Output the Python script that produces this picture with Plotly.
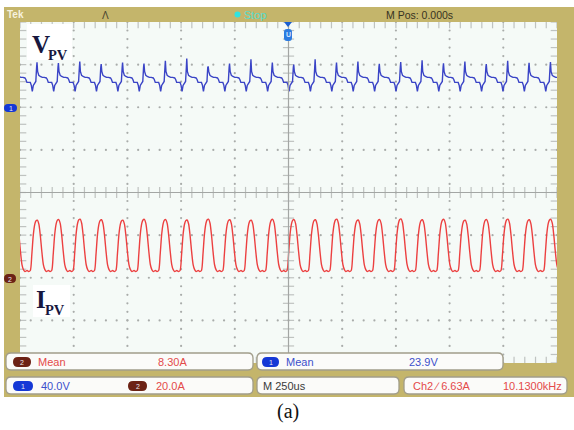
import numpy as np
import plotly.graph_objects as go

# ---------------- scope settings ----------------
CH1_VOLTS_PER_DIV = 40.0
CH2_AMPS_PER_DIV = 20.0
CH1_GROUND_DIV = 2.0      # blue "1" marker, 2 div above centre
CH2_GROUND_DIV = -2.0     # red "2" marker, 2 div below centre
TIME_PER_DIV_US = 250.0
N_HDIV, N_VDIV = 10, 8

PERIOD_US = 99.6          # one switching period as measured on screen
FIRST_EDGE_US = -1202.0   # first rising edge of the current pulse

# one period of I_PV (A) versus phase of the period
CUR_PHASE = [0.00, 0.07, 0.14, 0.21, 0.26, 0.33, 0.40, 0.47, 0.54, 0.61, 0.68, 0.75, 0.85, 0.92]
CUR_SHAPE = [3.4, 10.9, 20.3, 25.4, 26.9, 27.3, 25.4, 19.8, 12.3, 6.2, 3.8, 2.9, 3.4, 2.9]
# peak current of every pulse on screen (A)
CUR_PEAKS = [27.3, 27.0, 27.3, 27.5, 27.2, 27.0, 27.4, 27.3, 27.1, 27.5, 27.2, 27.0, 27.4,
             27.3, 27.2, 27.5, 27.1, 27.3, 27.6, 27.2, 27.4, 27.0, 27.3, 27.5, 27.2, 27.4]

# one period of V_PV (V) versus phase of the same period
VOLT_PHASE = [0.000, 0.047, 0.093, 0.140, 0.187, 0.257, 0.294, 0.313, 0.341, 0.397,
              0.467, 0.561, 0.654, 0.748, 0.794, 0.841, 0.911]
VOLT_SHAPE = [23.3, 20.5, 14.8, 20.5, 22.3, 24.2, 37.4, 42.1, 33.6, 29.9,
              28.9, 28.0, 28.0, 27.5, 26.1, 23.3, 23.3]
VOLT_SPIKE_IDX = 7
# spike top of every period on screen (V)
VOLT_SPIKES = [41.0, 42.1, 41.5, 43.0, 40.5, 42.0, 41.0, 43.5, 45.8, 38.3, 41.1, 44.9, 42.0,
               40.0, 45.0, 42.0, 43.0, 40.8, 42.5, 44.0, 41.2, 42.8, 40.5, 43.6, 41.8, 42.4]

# readouts
READ_CH2_MEAN = "8.30A"
READ_CH1_MEAN = "23.9V"
READ_CH1_SCALE = "40.0V"
READ_CH2_SCALE = "20.0A"
READ_TIMEBASE = "M 250us"
READ_TRIGGER = "Ch2 \u2215 6.63A"
READ_FREQ = "10.1300kHz"
TOP_STATUS = "Stop"
TOP_MPOS = "M Pos: 0.000s"
CAPTION = "(a)"

# ---------------- build waveforms ----------------
t_cur, i_cur = [], []
lo, top = CUR_SHAPE[0], max(CUR_SHAPE)
for k, pk in enumerate(CUR_PEAKS):
    t0 = FIRST_EDGE_US + (k - 1) * PERIOD_US
    for ph, v in zip(CUR_PHASE, CUR_SHAPE):
        t_cur.append(t0 + ph * PERIOD_US)
        i_cur.append(lo + (v - lo) * (pk - lo) / (top - lo))

t_v, v_v = [], []
for k, sp in enumerate(VOLT_SPIKES):
    t0 = FIRST_EDGE_US + (k - 1) * PERIOD_US
    for j, (ph, v) in enumerate(zip(VOLT_PHASE, VOLT_SHAPE)):
        t_v.append(t0 + ph * PERIOD_US)
        v_v.append(sp if j == VOLT_SPIKE_IDX else v)

half_t = N_HDIV / 2 * TIME_PER_DIV_US
half_d = N_VDIV / 2

# ---------------- pixel helpers ----------------
W, H = 574, 430
L, R, T, B = 20, 557, 22, 363


def px(x):
    return (x - L) / (R - L)


def py(y):
    return (B - y) / (B - T)


def rrect(x0, y0, x1, y1, r, fill, line="rgba(0,0,0,0)", lw=0, layer="above"):
    rx, ry = r / (R - L), r / (B - T)
    X0, X1 = px(x0), px(x1)
    Y0, Y1 = py(y1), py(y0)  # Y0 bottom, Y1 top (paper)
    path = (f"M {X0+rx},{Y0} L {X1-rx},{Y0} Q {X1},{Y0} {X1},{Y0+ry} "
            f"L {X1},{Y1-ry} Q {X1},{Y1} {X1-rx},{Y1} L {X0+rx},{Y1} "
            f"Q {X0},{Y1} {X0},{Y1-ry} L {X0},{Y0+ry} Q {X0},{Y0} {X0+rx},{Y0} Z")
    return dict(type="path", xref="paper", yref="paper", path=path, fillcolor=fill,
                line=dict(color=line, width=lw), layer=layer)


def rect(x0, y0, x1, y1, fill, layer="below"):
    return dict(type="rect", xref="paper", yref="paper", x0=px(x0), x1=px(x1),
                y0=py(y1), y1=py(y0), fillcolor=fill, line=dict(width=0), layer=layer)


def text(x, y, s, color, size=11, family="Liberation Sans", anchor="left", bold=False):
    if bold:
        s = f"<b>{s}</b>"
    return dict(x=px(x), y=py(y), xref="paper", yref="paper", text=s, showarrow=False,
                xanchor=anchor, yanchor="middle", font=dict(color=color, size=size, family=family),
                borderpad=0)


fig = go.Figure()

# ---------------- graticule ----------------
GRID = "#a9acaa"
gx, gy = [], []
for xv in np.arange(-half_t + TIME_PER_DIV_US, half_t, TIME_PER_DIV_US):
    if abs(xv) < 1e-6:
        continue
    for yv in np.arange(-half_d, half_d + 1e-6, 0.2):
        gx.append(xv); gy.append(yv)
for yv in range(-int(half_d) + 1, int(half_d)):
    if yv == 0:
        continue
    for xv in np.arange(-half_t, half_t + 1e-6, TIME_PER_DIV_US / 5):
        gx.append(xv); gy.append(yv)
fig.add_trace(go.Scatter(x=gx, y=gy, mode="markers", hoverinfo="skip",
                         marker=dict(symbol="circle", size=2.2, color=GRID, line=dict(width=0))))

# ticks on horizontal lines (edges + centre)
tx, ty, tsz = [], [], []
for yv, s in [(-half_d, 9), (half_d, 9), (0, 8)]:
    for xv in np.arange(-half_t, half_t + 1e-6, TIME_PER_DIV_US / 5):
        tx.append(xv); ty.append(yv); tsz.append(s)
fig.add_trace(go.Scatter(x=tx, y=ty, mode="markers", hoverinfo="skip",
                         marker=dict(symbol="line-ns", size=tsz, line=dict(color=GRID, width=1.2))))
tx, ty, tsz = [], [], []
for xv, s in [(-half_t, 9), (half_t, 9), (0, 8)]:
    for yv in np.arange(-half_d, half_d + 1e-6, 0.2):
        tx.append(xv); ty.append(yv); tsz.append(s)
fig.add_trace(go.Scatter(x=tx, y=ty, mode="markers", hoverinfo="skip",
                         marker=dict(symbol="line-ew", size=tsz, line=dict(color=GRID, width=1.2))))

# ---------------- waveforms ----------------
fig.add_trace(go.Scatter(x=t_cur, y=i_cur, yaxis="y3", mode="lines", hoverinfo="skip",
                         line=dict(color="#ec4040", width=1.4, shape="spline", smoothing=0.7)))
fig.add_trace(go.Scatter(x=t_v, y=v_v, yaxis="y2", mode="lines", hoverinfo="skip",
                         line=dict(color="#3a44c6", width=1.4)))

shapes = []
KHAKI = "#c4b56b"
shapes += [rect(4, 7, 574, T, KHAKI), rect(4, B, 574, 397, KHAKI),
           rect(4, T, L, B, KHAKI), rect(R, T, 574, B, KHAKI)]
# centre cross
shapes.append(dict(type="line", xref="x", yref="y", x0=-half_t, x1=half_t, y0=0, y1=0,
                   line=dict(color="#a3a6a4", width=1.2), layer="above"))
shapes.append(dict(type="line", xref="x", yref="y", x0=0, x1=0, y0=-half_d, y1=half_d,
                   line=dict(color="#a3a6a4", width=1.2), layer="above"))
# label boxes
shapes.append(rect(27, 24, 72, 60, "#ffffff", layer="above"))
shapes.append(rect(33, 285, 70, 317, "#ffffff", layer="above"))

# readout boxes
BOXF, BOXL = "#fbfbf9", "#a19d8a"
for (x0, y0, x1, y1) in [(6, 353, 253, 370), (257, 353, 503, 370),
                         (6, 377, 253, 394), (257, 377, 399, 394), (404, 377, 567, 394)]:
    shapes.append(rrect(x0, y0, x1, y1, 5, BOXF, BOXL, 1.3))

BLUE_M, RED_M = "#1538d6", "#6c2215"
pills = [(4, 104, 17, 112, BLUE_M, "1"), (4, 274, 16, 283, RED_M, "2"),
         (13, 357, 31, 367, RED_M, "2"), (262, 357, 279, 367, BLUE_M, "1"),
         (13, 381, 33, 391, BLUE_M, "1"), (128, 381, 147, 391, RED_M, "2")]
ann = []
for (x0, y0, x1, y1, c, lab) in pills:
    shapes.append(rrect(x0, y0, x1, y1, (y1 - y0) / 2, c))
    ann.append(text((x0 + x1) / 2, (y0 + y1) / 2 + 0.5, lab, "#e8e8f0", size=7, anchor="center"))

# trigger position marker at top centre
X0, X1 = px(284), px(292)
shapes.append(dict(type="path", xref="paper", yref="paper",
                   path=f"M {X0},{py(22)} L {X1},{py(22)} L {px(288)},{py(27)} Z",
                   fillcolor="#1a5fd0", line=dict(width=0), layer="above"))
shapes.append(rrect(284, 29, 292, 41, 3, "#2b7be0"))
ann.append(text(288, 35, "U", "#cfe3ff", size=7, anchor="center", bold=True))
# cyan status dot
shapes.append(dict(type="circle", xref="paper", yref="paper", x0=px(234.5), x1=px(240.5),
                   y0=py(17.5), y1=py(11.5), fillcolor="#2fe3e0", line=dict(width=0), layer="above"))

# ---------------- texts ----------------
RED_T, BLUE_T = "#e44a4a", "#3b50cc"
ann += [
    text(6, 14.5, "Tek", "#f6f2de", size=10, bold=True),
    text(105, 15, "\u0245", "#4a4530", size=10, anchor="center"),
    text(243, 15, TOP_STATUS, "#55dccb", size=11),
    text(385, 15, TOP_MPOS, "#36321f", size=10.5),
    text(37, 361.5, "Mean", RED_T),
    text(157, 361.5, READ_CH2_MEAN, RED_T),
    text(285, 361.5, "Mean", BLUE_T),
    text(408, 361.5, READ_CH1_MEAN, BLUE_T),
    text(40, 385.5, READ_CH1_SCALE, BLUE_T),
    text(155, 385.5, READ_CH2_SCALE, RED_T),
    text(262, 385.5, READ_TIMEBASE, "#3a3a3a"),
    text(412, 385.5, READ_TRIGGER, RED_T),
    text(502, 385.5, READ_FREQ, RED_T),
    text(30.5, 44, "V", "#17173f", size=25, family="Liberation Serif", bold=True),
    text(47, 54.5, "PV", "#17173f", size=14.5, family="Liberation Serif", bold=True),
    text(35, 299, "I", "#17173f", size=25, family="Liberation Serif", bold=True),
    text(44, 309.5, "PV", "#17173f", size=14.5, family="Liberation Serif", bold=True),
    text(288, 411, CAPTION, "#111111", size=20, family="Liberation Serif", anchor="center"),
]

fig.update_layout(
    width=W, height=H, autosize=False,
    margin=dict(l=L, r=W - R, t=T, b=H - B),
    paper_bgcolor="#ffffff", plot_bgcolor="#f5faf7",
    showlegend=False,
    xaxis=dict(range=[-half_t, half_t], showgrid=False, zeroline=False, showticklabels=False,
               ticks="", showline=False, fixedrange=True),
    yaxis=dict(range=[-half_d, half_d], showgrid=False, zeroline=False, showticklabels=False,
               ticks="", showline=False, fixedrange=True),
    yaxis2=dict(range=[(-half_d - CH1_GROUND_DIV) * CH1_VOLTS_PER_DIV,
                       (half_d - CH1_GROUND_DIV) * CH1_VOLTS_PER_DIV],
                overlaying="y", visible=False, fixedrange=True),
    yaxis3=dict(range=[(-half_d - CH2_GROUND_DIV) * CH2_AMPS_PER_DIV,
                       (half_d - CH2_GROUND_DIV) * CH2_AMPS_PER_DIV],
                overlaying="y", visible=False, fixedrange=True),
    shapes=shapes, annotations=ann,
)

fig.write_html("out.html")
